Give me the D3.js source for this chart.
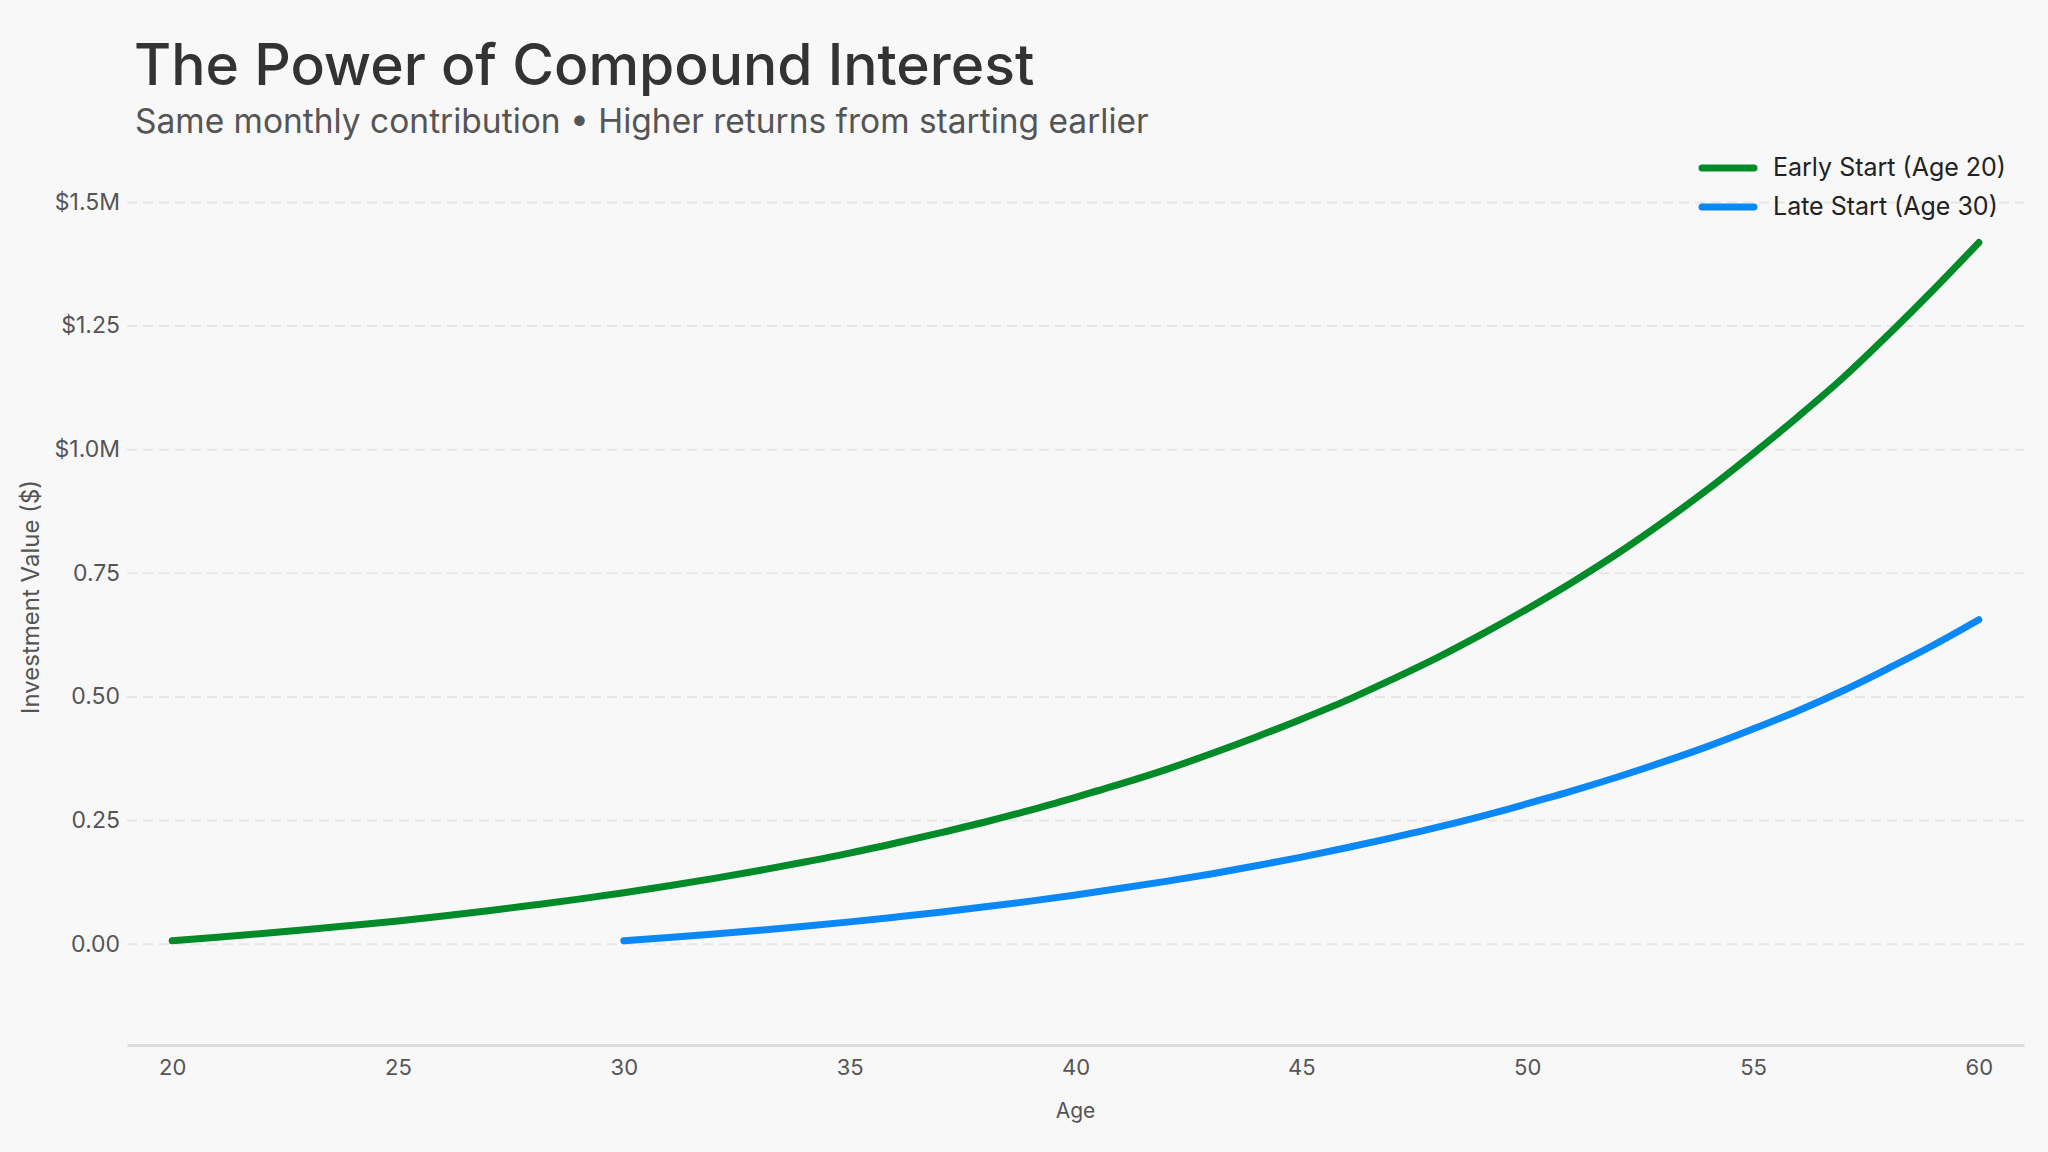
<!DOCTYPE html>
<html>
<head>
<meta charset="utf-8">
<script src="https://cdn.jsdelivr.net/npm/d3@7"></script>
<style>
  html, body { margin: 0; padding: 0; background: #f8f8f8; }
  svg { display: block; font-family: Inter, "Noto Sans", sans-serif; }
</style>
</head>
<body>
<div id="chart"></div>
<script>
// ages and values
var earlyAges = d3.range(20, 61);
var earlyValues = [
  6000, 13000, 20500, 28500, 37000, 46000, 56000, 66500, 78000, 90000,
  103000, 117000, 132000, 148000, 165000, 183000, 203000, 224000, 246000, 270000,
  296000, 323000, 352000, 384000, 418000, 454000, 492000, 534000, 578000, 626000,
  677000, 731000, 789000, 852000, 919000, 991000, 1066000, 1145000, 1232000, 1323000,
  1418000
];
var lateAges = d3.range(30, 61);
var lateValues = [
  6000, 12500, 19500, 27000, 35000, 44000, 53500, 63500, 74500, 86000,
  98500, 112000, 126000, 141000, 157500, 175000, 194000, 214000, 235000, 258000,
  283000, 309000, 337000, 367000, 399000, 434000, 471000, 512000, 557000, 604000,
  655000
];
var seriesNames = ['Early Start (Age 20)', 'Late Start (Age 30)'];
var seriesColors = ['#008a28', '#0a88f5'];

var yTickValues = [0, 250000, 500000, 750000, 1000000, 1250000, 1500000];
var yTickLabels = ['0.00', '0.25', '0.50', '0.75', '$1.0M', '$1.25', '$1.5M'];
var xTickValues = [20, 25, 30, 35, 40, 45, 50, 55, 60];

var width = 2048, height = 1152;

var svg = d3.select('#chart').append('svg')
  .attr('width', width)
  .attr('height', height);

svg.append('rect').attr('width', width).attr('height', height).attr('fill', '#f8f8f8');

var x = d3.scaleLinear().domain([19, 61]).range([127, 2024]);
var y = d3.scaleLinear().domain([-205000, 1500000]).range([1045, 202]);

// title
svg.append('text')
  .attr('x', 134).attr('y', 85)
  .attr('font-size', 57).attr('font-weight', 500)
  .attr('fill', '#333')
  .text('The Power of Compound Interest');

svg.append('text')
  .attr('x', 135).attr('y', 133)
  .attr('font-size', 33.5)
  .attr('fill', '#555')
  .text('Same monthly contribution \u2022 Higher returns from starting earlier');

// grid + y labels
var yAxis = d3.axisLeft(y)
  .tickValues(yTickValues)
  .tickSize(-(2024 - 127))
  .tickPadding(7)
  .tickFormat(function(d, i) { return yTickLabels[i]; });

var gy = svg.append('g')
  .attr('transform', 'translate(127,0)')
  .call(yAxis);
gy.select('.domain').remove();
gy.selectAll('.tick line')
  .attr('stroke', '#e6e6e6')
  .attr('stroke-width', 2)
  .attr('stroke-dasharray', '10,6');
gy.selectAll('.tick text')
  .attr('font-size', 23)
  .attr('fill', '#555')
  .attr('font-family', 'Inter, sans-serif');

// x axis
var xAxis = d3.axisBottom(x)
  .tickValues(xTickValues)
  .tickSize(0)
  .tickPadding(14);

var gx = svg.append('g')
  .attr('transform', 'translate(0,1045)')
  .call(xAxis);
gx.select('.domain').attr('stroke', '#dcdcdc').attr('stroke-width', 3);
gx.selectAll('.tick text')
  .attr('font-size', 22)
  .attr('fill', '#555')
  .attr('font-family', 'Inter, sans-serif');

svg.append('text')
  .attr('x', x(40)).attr('y', 1118)
  .attr('text-anchor', 'middle')
  .attr('font-size', 21).attr('fill', '#555')
  .text('Age');

svg.append('text')
  .attr('transform', 'translate(39,597) rotate(-90)')
  .attr('text-anchor', 'middle')
  .attr('font-size', 24).attr('fill', '#555')
  .text('Investment Value ($)');

// lines
var line = d3.line()
  .x(function(d) { return x(d[0]); })
  .y(function(d) { return y(d[1]); })
  .curve(d3.curveMonotoneX);

var series = [
  d3.zip(earlyAges, earlyValues),
  d3.zip(lateAges, lateValues)
];

series.forEach(function(pts, i) {
  svg.append('path')
    .datum(pts)
    .attr('d', line)
    .attr('fill', 'none')
    .attr('stroke', seriesColors[i])
    .attr('stroke-width', 7)
    .attr('stroke-linecap', 'round')
    .attr('stroke-linejoin', 'round');
});

// legend
var legend = svg.append('g').attr('transform', 'translate(1702,168)');
seriesNames.forEach(function(name, i) {
  var row = legend.append('g').attr('transform', 'translate(0,' + (i * 39) + ')');
  row.append('line')
    .attr('x1', 0).attr('x2', 52)
    .attr('stroke', seriesColors[i])
    .attr('stroke-width', 7)
    .attr('stroke-linecap', 'round');
  row.append('text')
    .attr('x', 71).attr('y', 8)
    .attr('font-size', 25).attr('fill', '#222')
    .text(name);
});
</script>
</body>
</html>
